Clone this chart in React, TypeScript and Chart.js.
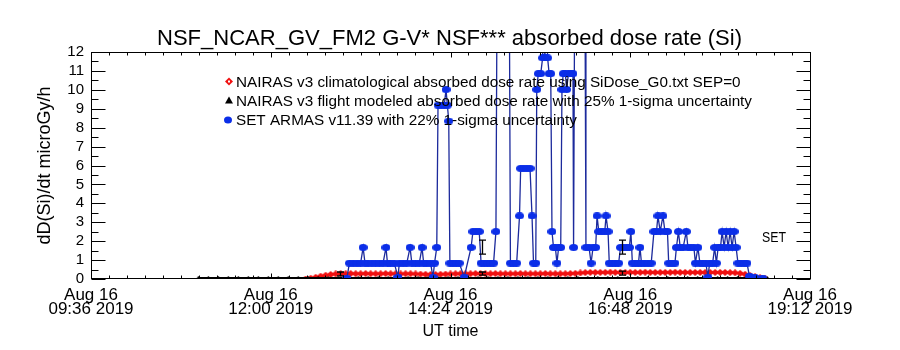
import React, { useEffect, useRef } from "react";
import { Chart, registerables } from "chart.js";

Chart.register(...registerables);

const FONT = "'Liberation Sans', 'DejaVu Sans', Arial, sans-serif";

// ---------- text ----------
const titleText = "NSF_NCAR_GV_FM2 G-V* NSF*** absorbed dose rate (Si)";
const legendLabels = [
  "NAIRAS v3 climatological absorbed dose rate using SiDose_G0.txt SEP=0",
  "NAIRAS v3 flight modeled absorbed dose rate with 25% 1-sigma uncertainty",
  "SET ARMAS v11.39 with 22% 1-sigma uncertainty",
];
const yAxisTitle = "dD(Si)/dt microGy/h";
const xAxisTitle = "UT time";
const sideLabel = "SET";

// ---------- axes (x in minutes of the day, UT) ----------
const xTickValues = [576, 720, 864, 1008, 1152];
const xTickDates = ["Aug 16", "Aug 16", "Aug 16", "Aug 16", "Aug 16"];
const xTickTimes = ["09:36 2019", "12:00 2019", "14:24 2019", "16:48 2019", "19:12 2019"];
const yTickValues = [0, 1, 2, 3, 4, 5, 6, 7, 8, 9, 10, 11, 12];

// ---------- SET ARMAS (blue) ----------
const setTimes = [
  781, 783, 786, 789, 792, 794, 795.5, 798, 801, 804,
  807, 810, 812.3, 813.5, 816, 819, 821.9, 823, 826, 829,
  831.6, 833, 836, 839, 841.2, 842.5, 845, 848, 850, 851.2,
  853, 854, 856.5, 859, 860.4, 861.5, 862.6, 863.5, 866, 868.5,
  871, 875, 880.5, 882, 884.5, 887, 888.5, 891, 893.5, 896,
  898.5, 900.4, 901.2, 911.2, 912, 914.5, 917, 919.3, 920.2, 922.7,
  925.2, 927.7, 929.3, 930.5, 932.3, 933.1, 934.3, 936.3, 937.8, 938.6,
  939.6, 940.8, 941.8, 943, 944.3, 945.3, 946.5, 948, 949.3, 950.6,
  952.3, 953.3, 954.3, 956, 957, 958.5, 960.5, 962.1, 962.6, 963.4,
  971.8, 972.5, 975, 976.6, 978.2, 980.3, 981.4, 982.8, 985.3, 987.6,
  988.6, 990.2, 991.2, 993.7, 996.2, 998.7, 1000.2, 1002.7, 1005.2, 1007.3,
  1008.5, 1009.7, 1012.2, 1014.6, 1015.8, 1017, 1019.6, 1022.2, 1024.8, 1027,
  1029, 1030.2, 1032, 1034.2, 1035.8, 1037.8, 1038.8, 1041.3, 1043.8, 1045,
  1046.6, 1048, 1050.4, 1052.9, 1054.2, 1056.6, 1059, 1060.2, 1062.2, 1063.8,
  1066.2, 1068.6, 1070.2, 1071.6, 1074, 1075.6, 1077, 1078.4, 1080.3, 1081.6,
  1083.2, 1084.8, 1086.4, 1088, 1089.6, 1091.2, 1092.8, 1094.3, 1096.8, 1099.3,
  1101.5, 1103.5, 1108, 1114,
];
const setValues = [
  0.05, 0.84, 0.84, 0.84, 0.84, 1.67, 0.84, 0.84, 0.84, 0.84,
  0.84, 0.84, 1.67, 0.84, 0.84, 0.84, 0.1, 0.84, 0.84, 0.84,
  1.67, 0.84, 0.84, 0.84, 1.67, 0.84, 0.84, 0.84, 0.1, 0.84,
  1.67, 9.19, 9.19, 9.19, 10.02, 9.19, 8.35, 0.84, 0.84, 0.84,
  0.84, 0.1, 1.67, 2.51, 2.51, 2.51, 0.84, 0.84, 0.84, 0.84,
  0.84, 2.51, 14, 14, 0.84, 0.84, 0.84, 3.34, 5.85, 5.85,
  5.85, 5.85, 3.34, 0.84, 0.84, 10.02, 10.86, 10.86, 11.69, 14,
  11.69, 14, 11.69, 10.86, 10.86, 2.51, 1.67, 1.67, 0.84, 1.67,
  1.67, 10.02, 10.86, 10.86, 10.02, 10.86, 10.86, 10.86, 1.67, 14,
  14, 1.67, 1.67, 0.84, 1.67, 1.67, 3.34, 2.51, 2.51, 2.51,
  3.34, 2.51, 0.84, 0.84, 0.84, 0.84, 1.67, 1.67, 1.67, 1.67,
  2.51, 0.84, 0.84, 0.84, 1.67, 0.84, 0.84, 0.84, 0.84, 2.51,
  2.51, 3.34, 2.51, 3.34, 2.51, 2.51, 0.84, 0.84, 0.84, 1.67,
  2.51, 1.67, 1.67, 2.51, 1.67, 1.67, 1.67, 0.84, 1.67, 0.84,
  0.84, 0.84, 0.1, 0.84, 0.84, 1.67, 0.84, 1.67, 1.67, 2.51,
  1.67, 2.51, 1.67, 2.51, 1.67, 2.51, 1.67, 0.84, 0.84, 0.84,
  0.84, 0.15, 0.08, 0.05,
];

// ---------- NAIRAS climatological (red), sampled every 4 min from 748 ----------
const redStart = 748;
const redStep = 4;
const redValues = [
  0.0, 0.04, 0.09, 0.15, 0.2, 0.24, 0.27, 0.28, 0.28, 0.29,
  0.28, 0.28, 0.29, 0.28, 0.28, 0.28, 0.29, 0.28, 0.28, 0.27,
  0.28, 0.28, 0.27, 0.26, 0.25, 0.24, 0.24, 0.25, 0.26, 0.27,
  0.28, 0.28, 0.28, 0.28, 0.29, 0.28, 0.28, 0.28, 0.29, 0.28,
  0.28, 0.28, 0.28, 0.29, 0.28, 0.28, 0.28, 0.28, 0.29, 0.28,
  0.28, 0.28, 0.28, 0.29, 0.3, 0.32, 0.34, 0.35, 0.35, 0.35,
  0.35, 0.36, 0.35, 0.35, 0.35, 0.35, 0.35, 0.35, 0.36, 0.35,
  0.35, 0.35, 0.35, 0.35, 0.36, 0.35, 0.35, 0.35, 0.35, 0.35,
  0.35, 0.35, 0.35, 0.35, 0.35, 0.34, 0.33, 0.3, 0.25, 0.19,
  0.13, 0.07, 0.03,
];

// ---------- NAIRAS flight modeled (black), sampled every 8 min from 662 ----------
const blackStart = 662;
const blackStep = 8;
const blackValues = [
  0.07, 0.07, 0.07, 0.07, 0.07, 0.07, 0.07, 0.07, 0.07, 0.07,
  0.07, 0.07, 0.07, 0.07, 0.07, 0.07, 0.07, 0.07, 0.07, 0.07,
  0.07, 0.07, 0.07, 0.07, 0.07, 0.07, 0.07, 0.07, 0.07, 0.07,
  0.07, 0.07, 0.07, 0.07, 0.07, 0.07, 0.07, 0.07, 0.07, 0.07,
  0.07, 0.07, 0.07, 0.07, 0.07, 0.07, 0.07, 0.07, 0.07, 0.07,
  0.07, 0.07, 0.07, 0.07, 0.07, 0.06, 0.05, 0.05,
];

// ---------- 1-sigma error bars ----------
const errTimes = [775.5, 889.2, 889.2, 1001.4, 1001.4];
const errLow = [0.16, 1.32, 0.21, 1.32, 0.21];
const errHigh = [0.37, 2.06, 0.37, 2.06, 0.42];

const BLUE_PT = "#0b2ee8";
const BLUE_LN = "#1c2a9c";
const RED = "#f01010";

function makeSprite(w: number, h: number, draw: (c: CanvasRenderingContext2D) => void) {
  const c = document.createElement("canvas");
  c.width = w;
  c.height = h;
  const g = c.getContext("2d");
  if (g) draw(g);
  return c;
}

const overlayPlugin = {
  id: "idlOverlay",
  afterDatasetsDraw(chart: any) {
    const { ctx, chartArea: a, scales } = chart;
    const xs = scales.x;
    const ys = scales.y;
    ctx.save();
    // error bars
    ctx.strokeStyle = "#000";
    ctx.lineWidth = 1.3;
    errTimes.forEach((t, i) => {
      const px = Math.round(xs.getPixelForValue(t)) + 0.5;
      const y1 = ys.getPixelForValue(errLow[i]);
      const y2 = ys.getPixelForValue(errHigh[i]);
      ctx.beginPath();
      ctx.moveTo(px, y1);
      ctx.lineTo(px, y2);
      ctx.moveTo(px - 3.5, y1);
      ctx.lineTo(px + 3.5, y1);
      ctx.moveTo(px - 3.5, y2);
      ctx.lineTo(px + 3.5, y2);
      ctx.stroke();
    });
    // frame
    const L = Math.round(a.left) + 0.5;
    const R = Math.round(a.right) + 0.5;
    const T = Math.round(a.top) + 0.5;
    const B = Math.round(a.bottom) - 0.5;
    ctx.lineWidth = 1;
    ctx.strokeStyle = "#000";
    ctx.strokeRect(L, T, R - L, B - T);
    ctx.beginPath();
    for (let i = 0; i < yTickValues.length; i++) {
      const v = yTickValues[i];
      const py = Math.round(ys.getPixelForValue(v)) + 0.5;
      ctx.moveTo(L, py);
      ctx.lineTo(L + 14, py);
      ctx.moveTo(R, py);
      ctx.lineTo(R - 14, py);
      if (i < yTickValues.length - 1) {
        const m = (v + yTickValues[i + 1]) / 2;
        const pm = Math.round(ys.getPixelForValue(m)) + 0.5;
        ctx.moveTo(L, pm);
        ctx.lineTo(L + 7, pm);
        ctx.moveTo(R, pm);
        ctx.lineTo(R - 7, pm);
      }
    }
    for (let i = 0; i < xTickValues.length; i++) {
      const v = xTickValues[i];
      const px = Math.round(xs.getPixelForValue(v)) + 0.5;
      ctx.moveTo(px, B);
      ctx.lineTo(px, B - 5);
      ctx.moveTo(px, T);
      ctx.lineTo(px, T + 5);
      if (i < xTickValues.length - 1) {
        const step = (xTickValues[i + 1] - v) / 10;
        for (let j = 1; j < 10; j++) {
          const pm = Math.round(xs.getPixelForValue(v + j * step)) + 0.5;
          ctx.moveTo(pm, B);
          ctx.lineTo(pm, B - 3);
          ctx.moveTo(pm, T);
          ctx.lineTo(pm, T + 3);
        }
      }
    }
    ctx.stroke();
    ctx.restore();
  },
  afterDraw(chart: any) {
    const { ctx } = chart;
    ctx.save();
    ctx.fillStyle = "#000";
    ctx.textBaseline = "alphabetic";
    // title
    ctx.font = `22px ${FONT}`;
    const tw = ctx.measureText(titleText).width;
    ctx.save();
    ctx.translate(449.5, 45);
    ctx.scale(585 / tw, 1);
    ctx.textAlign = "center";
    ctx.fillText(titleText, 0, 0);
    ctx.restore();
    // legend
    ctx.font = `14px ${FONT}`;
    const s = 516 / ctx.measureText(legendLabels[1]).width;
    const baselines = [86.5, 105.5, 125];
    const centers = [81.5, 100.5, 120];
    legendLabels.forEach((lab, i) => {
      ctx.save();
      ctx.translate(236, baselines[i]);
      ctx.scale(s, 1);
      ctx.textAlign = "left";
      ctx.fillText(lab, 0, 0);
      ctx.restore();
    });
    const mx = 229;
    ctx.fillStyle = RED;
    ctx.beginPath();
    ctx.moveTo(mx, centers[0] - 4);
    ctx.lineTo(mx + 4, centers[0]);
    ctx.lineTo(mx, centers[0] + 4);
    ctx.lineTo(mx - 4, centers[0]);
    ctx.closePath();
    ctx.fill();
    ctx.fillStyle = "#fff";
    ctx.fillRect(mx - 1, centers[0] - 1, 2, 2);
    ctx.fillStyle = "#000";
    ctx.beginPath();
    ctx.moveTo(mx, centers[1] - 4);
    ctx.lineTo(mx + 4, centers[1] + 3);
    ctx.lineTo(mx - 4, centers[1] + 3);
    ctx.closePath();
    ctx.fill();
    ctx.fillStyle = BLUE_PT;
    ctx.beginPath();
    ctx.ellipse(mx - 1, centers[2], 4, 3.5, 0, 0, Math.PI * 2);
    ctx.fill();
    ctx.fillStyle = "#000";
    ctx.font = `14px ${FONT}`;
    ctx.textAlign = "left";
    ctx.fillText(sideLabel, 762, 242, 24);
    ctx.restore();
  },
};

export default function App() {
  const ref = useRef<HTMLCanvasElement | null>(null);
  useEffect(() => {
    if (!ref.current) return;
    const blueDot = makeSprite(9, 7, (g) => {
      g.fillStyle = BLUE_PT;
      g.beginPath();
      g.ellipse(4.5, 3.5, 4.5, 3.5, 0, 0, Math.PI * 2);
      g.fill();
    });
    const redDiamond = makeSprite(8, 7, (g) => {
      g.fillStyle = RED;
      g.beginPath();
      g.moveTo(4, 0);
      g.lineTo(8, 3.5);
      g.lineTo(4, 7);
      g.lineTo(0, 3.5);
      g.closePath();
      g.fill();
    });
    const blackTri = makeSprite(5, 4, (g) => {
      g.fillStyle = "#000";
      g.beginPath();
      g.moveTo(2.5, 0);
      g.lineTo(5, 4);
      g.lineTo(0, 4);
      g.closePath();
      g.fill();
    });
    const setData = setTimes.map((t, i) => ({ x: t, y: setValues[i] }));
    const redData = redValues.map((v, i) => ({ x: redStart + i * redStep, y: v }));
    const blackData = blackValues.map((v, i) => ({ x: blackStart + i * blackStep, y: v }));
    const chart = new Chart(ref.current, {
      type: "line",
      data: {
        datasets: [
          {
            label: legendLabels[2],
            data: setData,
            borderColor: BLUE_LN,
            borderWidth: 1.3,
            pointStyle: blueDot as any,
            pointRadius: 4,
            tension: 0,
          },
          {
            label: legendLabels[1],
            data: blackData,
            borderColor: "#000",
            borderWidth: 1.5,
            pointStyle: blackTri as any,
            pointRadius: 2,
            tension: 0,
          },
          {
            label: legendLabels[0],
            data: redData,
            borderColor: RED,
            borderWidth: 2,
            pointStyle: redDiamond as any,
            pointRadius: 4,
            tension: 0,
          },
        ],
      },
      options: {
        responsive: false,
        animation: false,
        events: [],
        layout: { padding: { left: 0, right: 90, top: 52, bottom: 0 } },
        plugins: {
          legend: { display: false },
          tooltip: { enabled: false },
          title: { display: false },
        },
        scales: {
          x: {
            type: "linear",
            min: 576,
            max: 1152,
            afterBuildTicks: (s: any) => {
              s.ticks = xTickValues.map((v) => ({ value: v }));
            },
            afterFit: (s: any) => {
              s.height = 71;
            },
            grid: { display: false, drawTicks: false },
            border: { display: false },
            ticks: {
              autoSkip: false,
              maxRotation: 0,
              minRotation: 0,
              padding: 10,
              color: "#000",
              font: { family: FONT, size: 17, lineHeight: 0.8 },
              callback: (v: any) => {
                const i = xTickValues.indexOf(Number(v));
                return i >= 0 ? [xTickDates[i], xTickTimes[i]] : "";
              },
            },
            title: {
              display: true,
              text: xAxisTitle,
              color: "#000",
              font: { family: FONT, size: 16 },
              padding: { top: 0, bottom: 9 },
            },
          },
          y: {
            min: 0,
            max: 12,
            afterBuildTicks: (s: any) => {
              s.ticks = yTickValues.map((v) => ({ value: v }));
            },
            afterFit: (s: any) => {
              s.width = 91;
            },
            grid: { display: false, drawTicks: false },
            border: { display: false },
            ticks: {
              autoSkip: false,
              padding: 7,
              color: "#000",
              font: { family: FONT, size: 15 },
              callback: (v: any) => String(v),
            },
            title: {
              display: true,
              text: yAxisTitle,
              color: "#000",
              font: { family: FONT, size: 18 },
              padding: { top: 34, bottom: 0 },
            },
          },
        },
      },
      plugins: [overlayPlugin],
    });
    return () => chart.destroy();
  }, []);
  return (
    <div style={{ position: "fixed", left: 0, top: 0, width: 900, height: 350, background: "#fff" }}>
      <canvas ref={ref} width={900} height={350} />
    </div>
  );
}
